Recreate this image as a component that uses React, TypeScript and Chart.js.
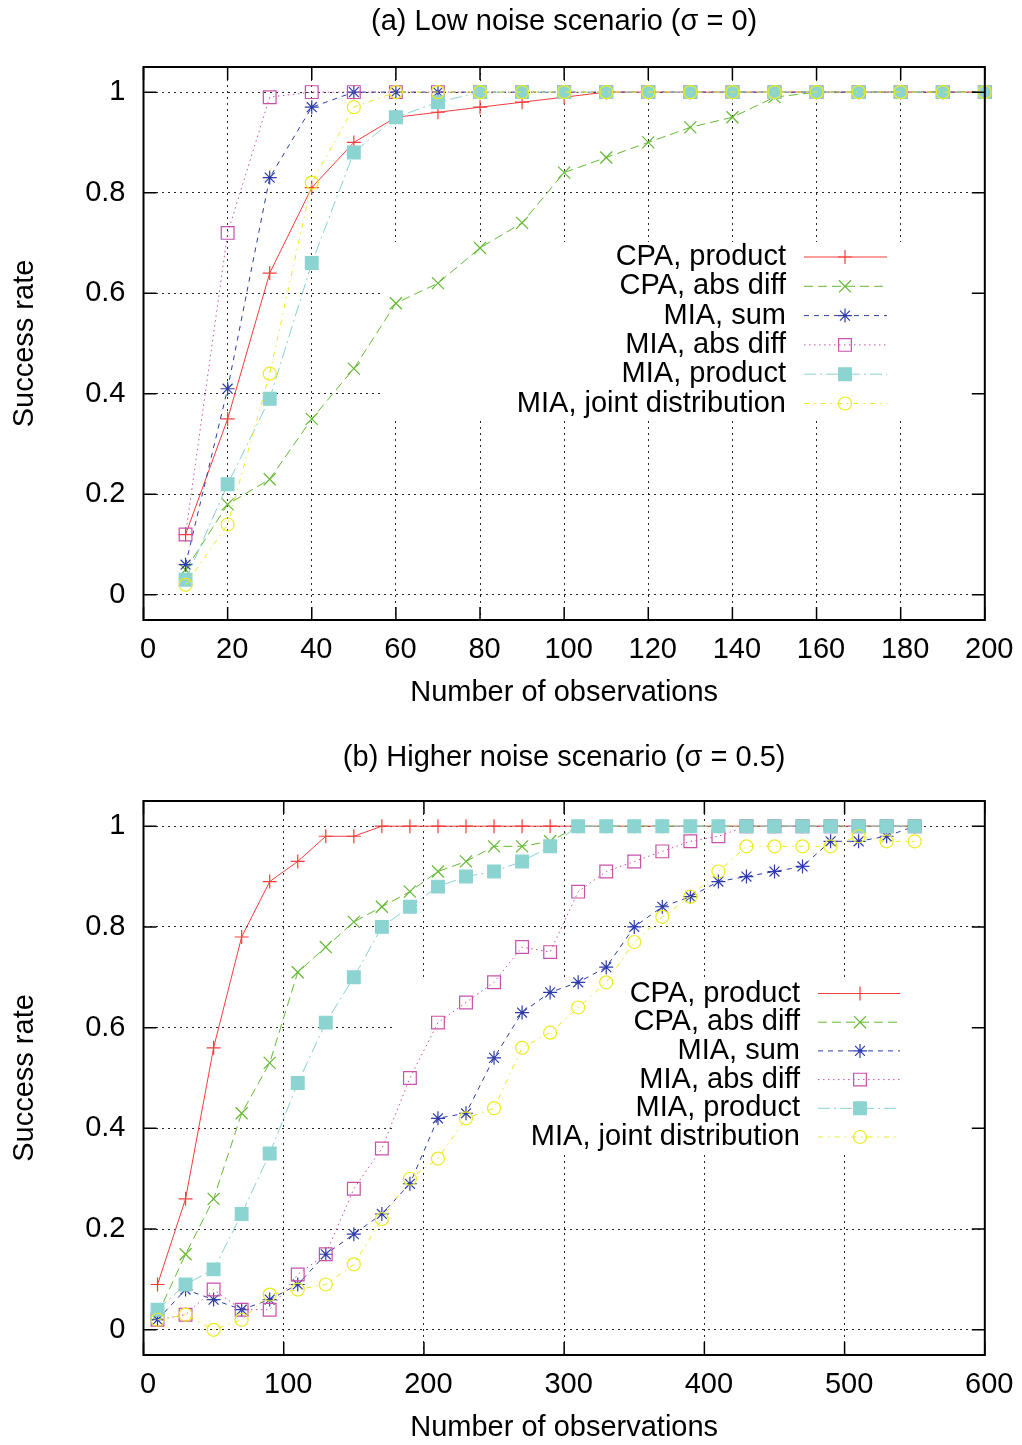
import React, { useEffect, useRef } from 'react';
import { Chart, registerables } from 'chart.js';
import { drawPoint } from 'chart.js/helpers';

Chart.register(...registerables);

// ---------- data ----------
const seriesNames = ['CPA, product', 'CPA, abs diff', 'MIA, sum', 'MIA, abs diff', 'MIA, product', 'MIA, joint distribution'];

const lowX = [10, 20, 30, 40, 50, 60, 70, 80, 90, 100, 110, 120, 130, 140, 150, 160, 170, 180, 190, 200];
const lowCpaProduct = [0.12, 0.35, 0.64, 0.81, 0.90, 0.95, 0.96, 0.97, 0.98, 0.99, 1, 1, 1, 1, 1, 1, 1, 1, 1, 1];
const lowCpaAbsDiff = [0.05, 0.18, 0.23, 0.35, 0.45, 0.58, 0.62, 0.69, 0.74, 0.84, 0.87, 0.90, 0.93, 0.95, 0.99, 1, 1, 1, 1, 1];
const lowMiaSum = [0.06, 0.41, 0.83, 0.97, 1, 1, 1, 1, 1, 1, 1, 1, 1, 1, 1, 1, 1, 1, 1, 1];
const lowMiaAbsDiff = [0.12, 0.72, 0.99, 1, 1, 1, 1, 1, 1, 1, 1, 1, 1, 1, 1, 1, 1, 1, 1, 1];
const lowMiaProduct = [0.03, 0.22, 0.39, 0.66, 0.88, 0.95, 0.98, 1, 1, 1, 1, 1, 1, 1, 1, 1, 1, 1, 1, 1];
const lowMiaJoint = [0.02, 0.14, 0.44, 0.82, 0.97, 1, 1, 1, 1, 1, 1, 1, 1, 1, 1, 1, 1, 1, 1, 1];

const highX = [10, 30, 50, 70, 90, 110, 130, 150, 170, 190, 210, 230, 250, 270, 290, 310, 330, 350, 370, 390, 410, 430, 450, 470, 490, 510, 530, 550];
const highCpaProduct = [0.09, 0.26, 0.56, 0.78, 0.89, 0.93, 0.98, 0.98, 1, 1, 1, 1, 1, 1, 1, 1, 1, 1, 1, 1, 1, 1, 1, 1, 1, 1, 1, 1];
const highCpaAbsDiff = [0.03, 0.15, 0.26, 0.43, 0.53, 0.71, 0.76, 0.81, 0.84, 0.87, 0.91, 0.93, 0.96, 0.96, 0.97, 1, 1, 1, 1, 1, 1, 1, 1, 1, 1, 1, 1, 1];
const highMiaSum = [0.02, 0.08, 0.06, 0.04, 0.06, 0.09, 0.15, 0.19, 0.23, 0.29, 0.42, 0.43, 0.54, 0.63, 0.67, 0.69, 0.72, 0.80, 0.84, 0.86, 0.89, 0.90, 0.91, 0.92, 0.97, 0.97, 0.98, 1];
const highMiaAbsDiff = [0.02, 0.03, 0.08, 0.04, 0.04, 0.11, 0.15, 0.28, 0.36, 0.50, 0.61, 0.65, 0.69, 0.76, 0.75, 0.87, 0.91, 0.93, 0.95, 0.97, 0.98, 1, 1, 1, 1, 1, 1, 1];
const highMiaProduct = [0.04, 0.09, 0.12, 0.23, 0.35, 0.49, 0.61, 0.70, 0.80, 0.84, 0.88, 0.90, 0.91, 0.93, 0.96, 1, 1, 1, 1, 1, 1, 1, 1, 1, 1, 1, 1, 1];
const highMiaJoint = [0.02, 0.03, 0.00, 0.02, 0.07, 0.08, 0.09, 0.13, 0.22, 0.30, 0.34, 0.42, 0.44, 0.56, 0.59, 0.64, 0.69, 0.77, 0.82, 0.86, 0.91, 0.96, 0.96, 0.96, 0.96, 0.98, 0.97, 0.97];

const yTicks = [0, 0.2, 0.4, 0.6, 0.8, 1];
const lowXTicks = [0, 20, 40, 60, 80, 100, 120, 140, 160, 180, 200];
const highXTicks = [0, 100, 200, 300, 400, 500, 600];

// ---------- styles ----------
const FONT = '"Liberation Sans", Arial, Helvetica, sans-serif';
const FS = 29;
const seriesColors = ['rgb(245,60,60)', 'rgb(100,185,50)', 'rgb(45,60,170)', 'rgb(200,80,170)', 'rgb(135,210,210)', 'rgb(235,235,30)'];
const seriesDash = [[], [9, 5], [5, 5], [1.5, 3.5], [12, 4, 2, 4], [5, 5, 1.5, 5]];
const seriesPointStyle = ['cross', 'crossRot', 'star', 'rect', 'rect', 'circle'];
const seriesRadius = [7, 8.5, 7, 9, 9, 6.5];
const seriesFill = ['rgba(0,0,0,0)', 'rgba(0,0,0,0)', 'rgba(0,0,0,0)', 'rgba(0,0,0,0)', 'rgb(140,212,210)', 'rgba(0,0,0,0)'];

Chart.defaults.font.family = FONT;
Chart.defaults.font.size = FS;
Chart.defaults.color = '#000';

const framePlugin = {
  id: 'gpFrame',
  beforeDatasetsDraw(chart: any, _args: any, opts: any) {
    const b = opts.blank;
    if (!b) return;
    const ctx = chart.ctx;
    ctx.save();
    ctx.fillStyle = '#fff';
    ctx.fillRect(b.x1, b.y1, b.x2 - b.x1, b.y2 - b.y1);
    ctx.restore();
  },
  afterDatasetsDraw(chart: any, _args: any, opts: any) {
    const ctx = chart.ctx;
    const { left, right, top, bottom } = chart.chartArea;
    const xs = chart.scales.x;
    const ys = chart.scales.y;
    ctx.save();
    ctx.setLineDash([]);
    ctx.strokeStyle = '#000';
    ctx.lineWidth = 1.5;
    const L = 13;
    ctx.beginPath();
    xs.ticks.forEach((t: any) => {
      const px = xs.getPixelForValue(t.value);
      ctx.moveTo(px, bottom);
      ctx.lineTo(px, bottom - L);
      ctx.moveTo(px, top);
      ctx.lineTo(px, top + L);
    });
    ys.ticks.forEach((t: any) => {
      const py = ys.getPixelForValue(t.value);
      ctx.moveTo(left, py);
      ctx.lineTo(left + L, py);
      ctx.moveTo(right, py);
      ctx.lineTo(right - L, py);
    });
    ctx.stroke();
    ctx.lineWidth = 2;
    ctx.strokeRect(left, top, right - left, bottom - top);

    const lg = opts.legend;
    if (lg) {
      chart.data.datasets.forEach((ds: any, i: number) => {
        const y = lg.y0 + i * lg.dy;
        ctx.save();
        ctx.font = `${FS}px ${FONT}`;
        ctx.textAlign = 'right';
        ctx.textBaseline = 'middle';
        ctx.fillStyle = '#000';
        ctx.fillText(ds.label, lg.textRight, y);
        ctx.strokeStyle = ds.borderColor;
        ctx.lineWidth = ds.borderWidth;
        ctx.setLineDash(ds.borderDash || []);
        ctx.beginPath();
        ctx.moveTo(lg.x1, y);
        ctx.lineTo(lg.x2, y);
        ctx.stroke();
        ctx.setLineDash([]);
        ctx.fillStyle = ds.pointBackgroundColor;
        ctx.strokeStyle = ds.pointBorderColor;
        ctx.lineWidth = ds.pointBorderWidth;
        drawPoint(ctx, { pointStyle: ds.pointStyle, rotation: 0, radius: ds.pointRadius, borderWidth: ds.pointBorderWidth } as any, lg.mx, y);
        ctx.restore();
      });
    }
    ctx.restore();
  },
};

function buildDatasets(xs: number[], series: number[][]) {
  return series.map((vals, i) => ({
    label: seriesNames[i],
    data: xs.map((x, j) => ({ x, y: vals[j] })),
    borderColor: seriesColors[i],
    borderWidth: 1,
    borderDash: seriesDash[i],
    pointStyle: seriesPointStyle[i],
    pointRadius: seriesRadius[i],
    pointBorderWidth: 1.2,
    pointBorderColor: i === 4 ? seriesFill[4] : seriesColors[i],
    pointBackgroundColor: seriesFill[i],
    fill: false,
    tension: 0,
    order: 10 - i,
    clip: false as any,
  }));
}

function buildConfig(p: any): any {
  return {
    type: 'line',
    data: { datasets: buildDatasets(p.xs, p.series) },
    plugins: [framePlugin],
    options: {
      animation: false,
      responsive: false,
      events: [],
      layout: { padding: { left: 0, right: 33, top: 0, bottom: 0 } },
      scales: {
        x: {
          type: 'linear',
          min: p.xMin,
          max: p.xMax,
          afterBuildTicks: (s: any) => { s.ticks = p.xTicks.map((v: number) => ({ value: v })); },
          afterFit: (s: any) => { s.height = p.xAxisHeight; },
          ticks: { padding: 13, labelOffset: 4.5, color: '#000', font: { size: FS }, maxRotation: 0, autoSkip: false, callback: (v: any) => String(v) },
          grid: { color: 'rgba(0,0,0,0.85)', lineWidth: 1, drawTicks: false },
          border: { display: false, dash: [2, 4] },
          title: { display: true, text: 'Number of observations', color: '#000', font: { size: FS }, padding: { top: 0, bottom: p.xTitleBottom } },
        },
        y: {
          type: 'linear',
          min: -0.05,
          max: 1.05,
          afterBuildTicks: (s: any) => { s.ticks = yTicks.map((v) => ({ value: v })); },
          afterFit: (s: any) => { s.width = 143.5; },
          ticks: { padding: 18, color: '#000', font: { size: FS }, callback: (v: any) => String(v) },
          grid: { color: 'rgba(0,0,0,0.85)', lineWidth: 1, drawTicks: false },
          border: { display: false, dash: [2, 4] },
          title: { display: true, text: 'Success rate', color: '#000', font: { size: FS }, padding: { top: 7.6, bottom: 0 } },
        },
      },
      plugins: {
        legend: { display: false },
        tooltip: { enabled: false },
        title: {
          display: true,
          text: p.title,
          color: '#000',
          fullSize: false,
          font: { size: FS, weight: 'normal' },
          padding: { top: p.titleTop, bottom: p.titleBottom },
        },
        gpFrame: { blank: p.blank, legend: p.legend },
      },
    },
  };
}

function GpChart({ config, width, height }: any) {
  const ref = useRef<HTMLCanvasElement | null>(null);
  useEffect(() => {
    const chart = new Chart(ref.current as HTMLCanvasElement, config);
    return () => chart.destroy();
  }, []);
  return <canvas ref={ref} width={width} height={height} style={{ display: 'block', width, height }} />;
}

const lowConfig = buildConfig({
  xs: lowX,
  series: [lowCpaProduct, lowCpaAbsDiff, lowMiaSum, lowMiaAbsDiff, lowMiaProduct, lowMiaJoint],
  xMin: 0, xMax: 200, xTicks: lowXTicks,
  xAxisHeight: 102, xTitleBottom: 11.6,
  title: '(a) Low noise scenario (\u03c3 = 0)', titleTop: 5, titleBottom: 27.2,
  blank: { x1: 383, y1: 242, x2: 988, y2: 417 },
  legend: { y0: 257, dy: 29.3, textRight: 786, x1: 804, x2: 887, mx: 845 },
});

const highConfig = buildConfig({
  xs: highX,
  series: [highCpaProduct, highCpaAbsDiff, highMiaSum, highMiaAbsDiff, highMiaProduct, highMiaJoint],
  xMin: 0, xMax: 600, xTicks: highXTicks,
  xAxisHeight: 90, xTitleBottom: 0,
  title: '(b) Higher noise scenario (\u03c3 = 0.5)', titleTop: 19, titleBottom: 25.2,
  blank: { x1: 396, y1: 977 - 722, x2: 988, y2: 1152 - 722 },
  legend: { y0: 993.5 - 722, dy: 28.7, textRight: 800, x1: 818, x2: 900, mx: 860 },
});

export default function App() {
  return (
    <div style={{ position: 'absolute', left: 0, top: 0, width: 1022, height: 1445, background: '#fff' }}>
      <GpChart config={lowConfig} width={1022} height={722} />
      <GpChart config={highConfig} width={1022} height={723} />
    </div>
  );
}
